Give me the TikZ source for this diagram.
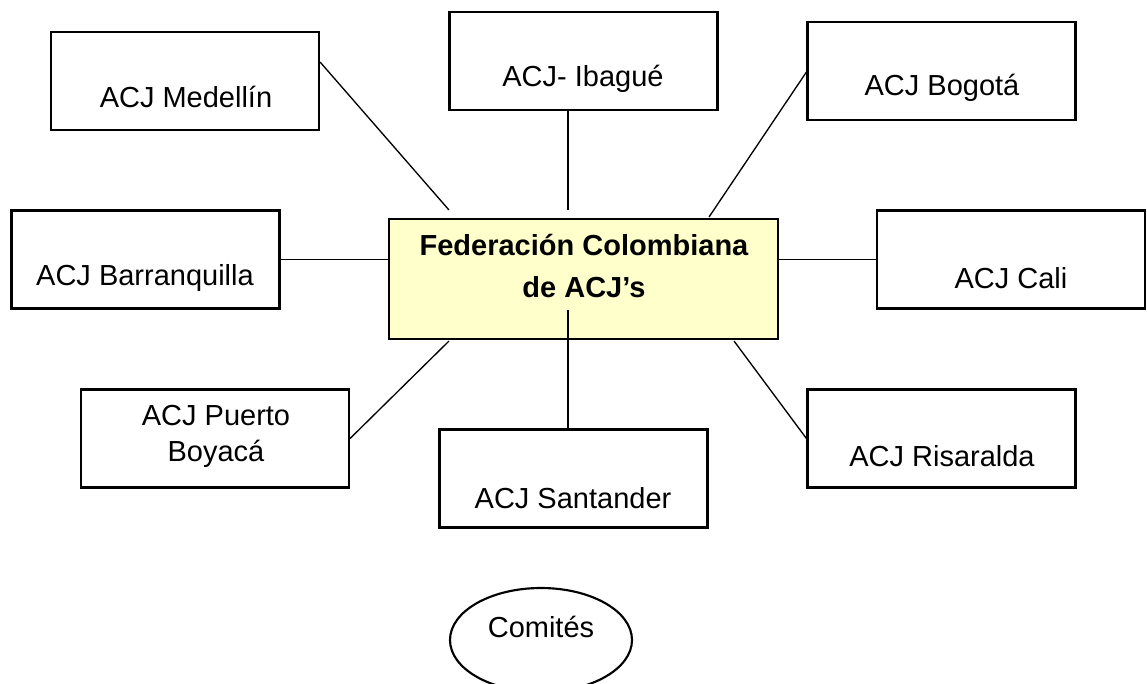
\documentclass[tikz,border=0pt]{standalone}
\usepackage{fontspec}
\setmainfont{Liberation Sans}
\usetikzlibrary{shapes.geometric}
\begin{document}
\begin{tikzpicture}[x=0.75pt,y=-0.75pt,
  box/.style={draw, line width=1.6pt, inner sep=0pt, minimum width=201pt, minimum height=73.5pt},
  fedbox/.style={draw, line width=1.6pt, fill=fedyellow, inner sep=0pt, minimum width=291.75pt, minimum height=90pt},
  comite/.style={draw, ellipse, line width=1.6pt, inner sep=0pt, minimum width=136.5pt, minimum height=78pt},
  lbl/.style={inner sep=0pt, font=\fontsize{21.75}{27}\selectfont, align=center},
  fedlbl/.style={inner sep=0pt, font=\fontsize{21.75}{31.5}\selectfont\bfseries, align=center},
  link/.style={line width=1pt}]
\definecolor{fedyellow}{HTML}{FFFFCC}
\clip (0,0) rectangle (1147,683);
\fill[white] (0,0) rectangle (1147,683);

% boxes
\node[box] (med) at (185,81) {};
\node[box] (iba) at (583.5,61) {};
\node[box] (bog) at (941.5,71) {};
\node[box] (bar) at (145.5,259.5) {};
\node[fedbox] (fed) at (583.5,279) {};
\node[box] (cal) at (1011,259.5) {};
\node[box] (pb) at (215,438.5) {};
\node[box] (san) at (573.5,478.5) {};
\node[box] (ris) at (941.5,438.5) {};
\node[comite] (com) at (541,640) {};

% texts
\node[lbl] (medt) at (186,97) {ACJ Medellín};
\node[lbl] (ibat) at (583,79) {ACJ- Ibagué};
\node[lbl] (bogt) at (942,88) {ACJ Bogotá};
\node[lbl] (bart) at (145,278) {ACJ Barranquilla};
\node[fedlbl] (fedt) at (584,266) {Federación Colombiana\\de ACJ’s};
\node[lbl] (calt) at (1011,278) {ACJ Cali};
\node[lbl] (pbt) at (216,436) {ACJ Puerto\\Boyacá};
\node[lbl] (sant) at (573,498) {ACJ Santander};
\node[lbl] (rist) at (942,456) {ACJ Risaralda};
\node[lbl] (comt) at (541,627) {Comités};

% free ends near the federation box
\coordinate (fmed) at ([shift={(61,-8)}]fed.north west);
\coordinate (fiba) at ([shift={(-15.5,-8)}]fed.north);
\coordinate (fbog) at ([shift={(-70,-1)}]fed.north east);
\coordinate (fpb) at ([shift={(61,1)}]fed.south west);
\coordinate (fsan) at ([shift={(-15.5,-30)}]fed.south);
\coordinate (fris) at ([shift={(-45,1)}]fed.south east);

% connectors
\draw[link] ([shift={(0,-19)}]med.east) -- (fmed);
\draw[link] ([shift={(-15.5,0)}]iba.south) -- (fiba);
\draw[link] ([shift={(0,1)}]bog.west) -- (fbog);
\draw[link] (bar.east) -- (bar.east -| fed.west);
\draw[link] (cal.west -| fed.east) -- (cal.west);
\draw[link] (pb.east) -- (fpb);
\draw[link] ([shift={(-5.5,0)}]san.north) -- (fsan);
\draw[link] (fris) -- (ris.west);
\end{tikzpicture}
\end{document}
